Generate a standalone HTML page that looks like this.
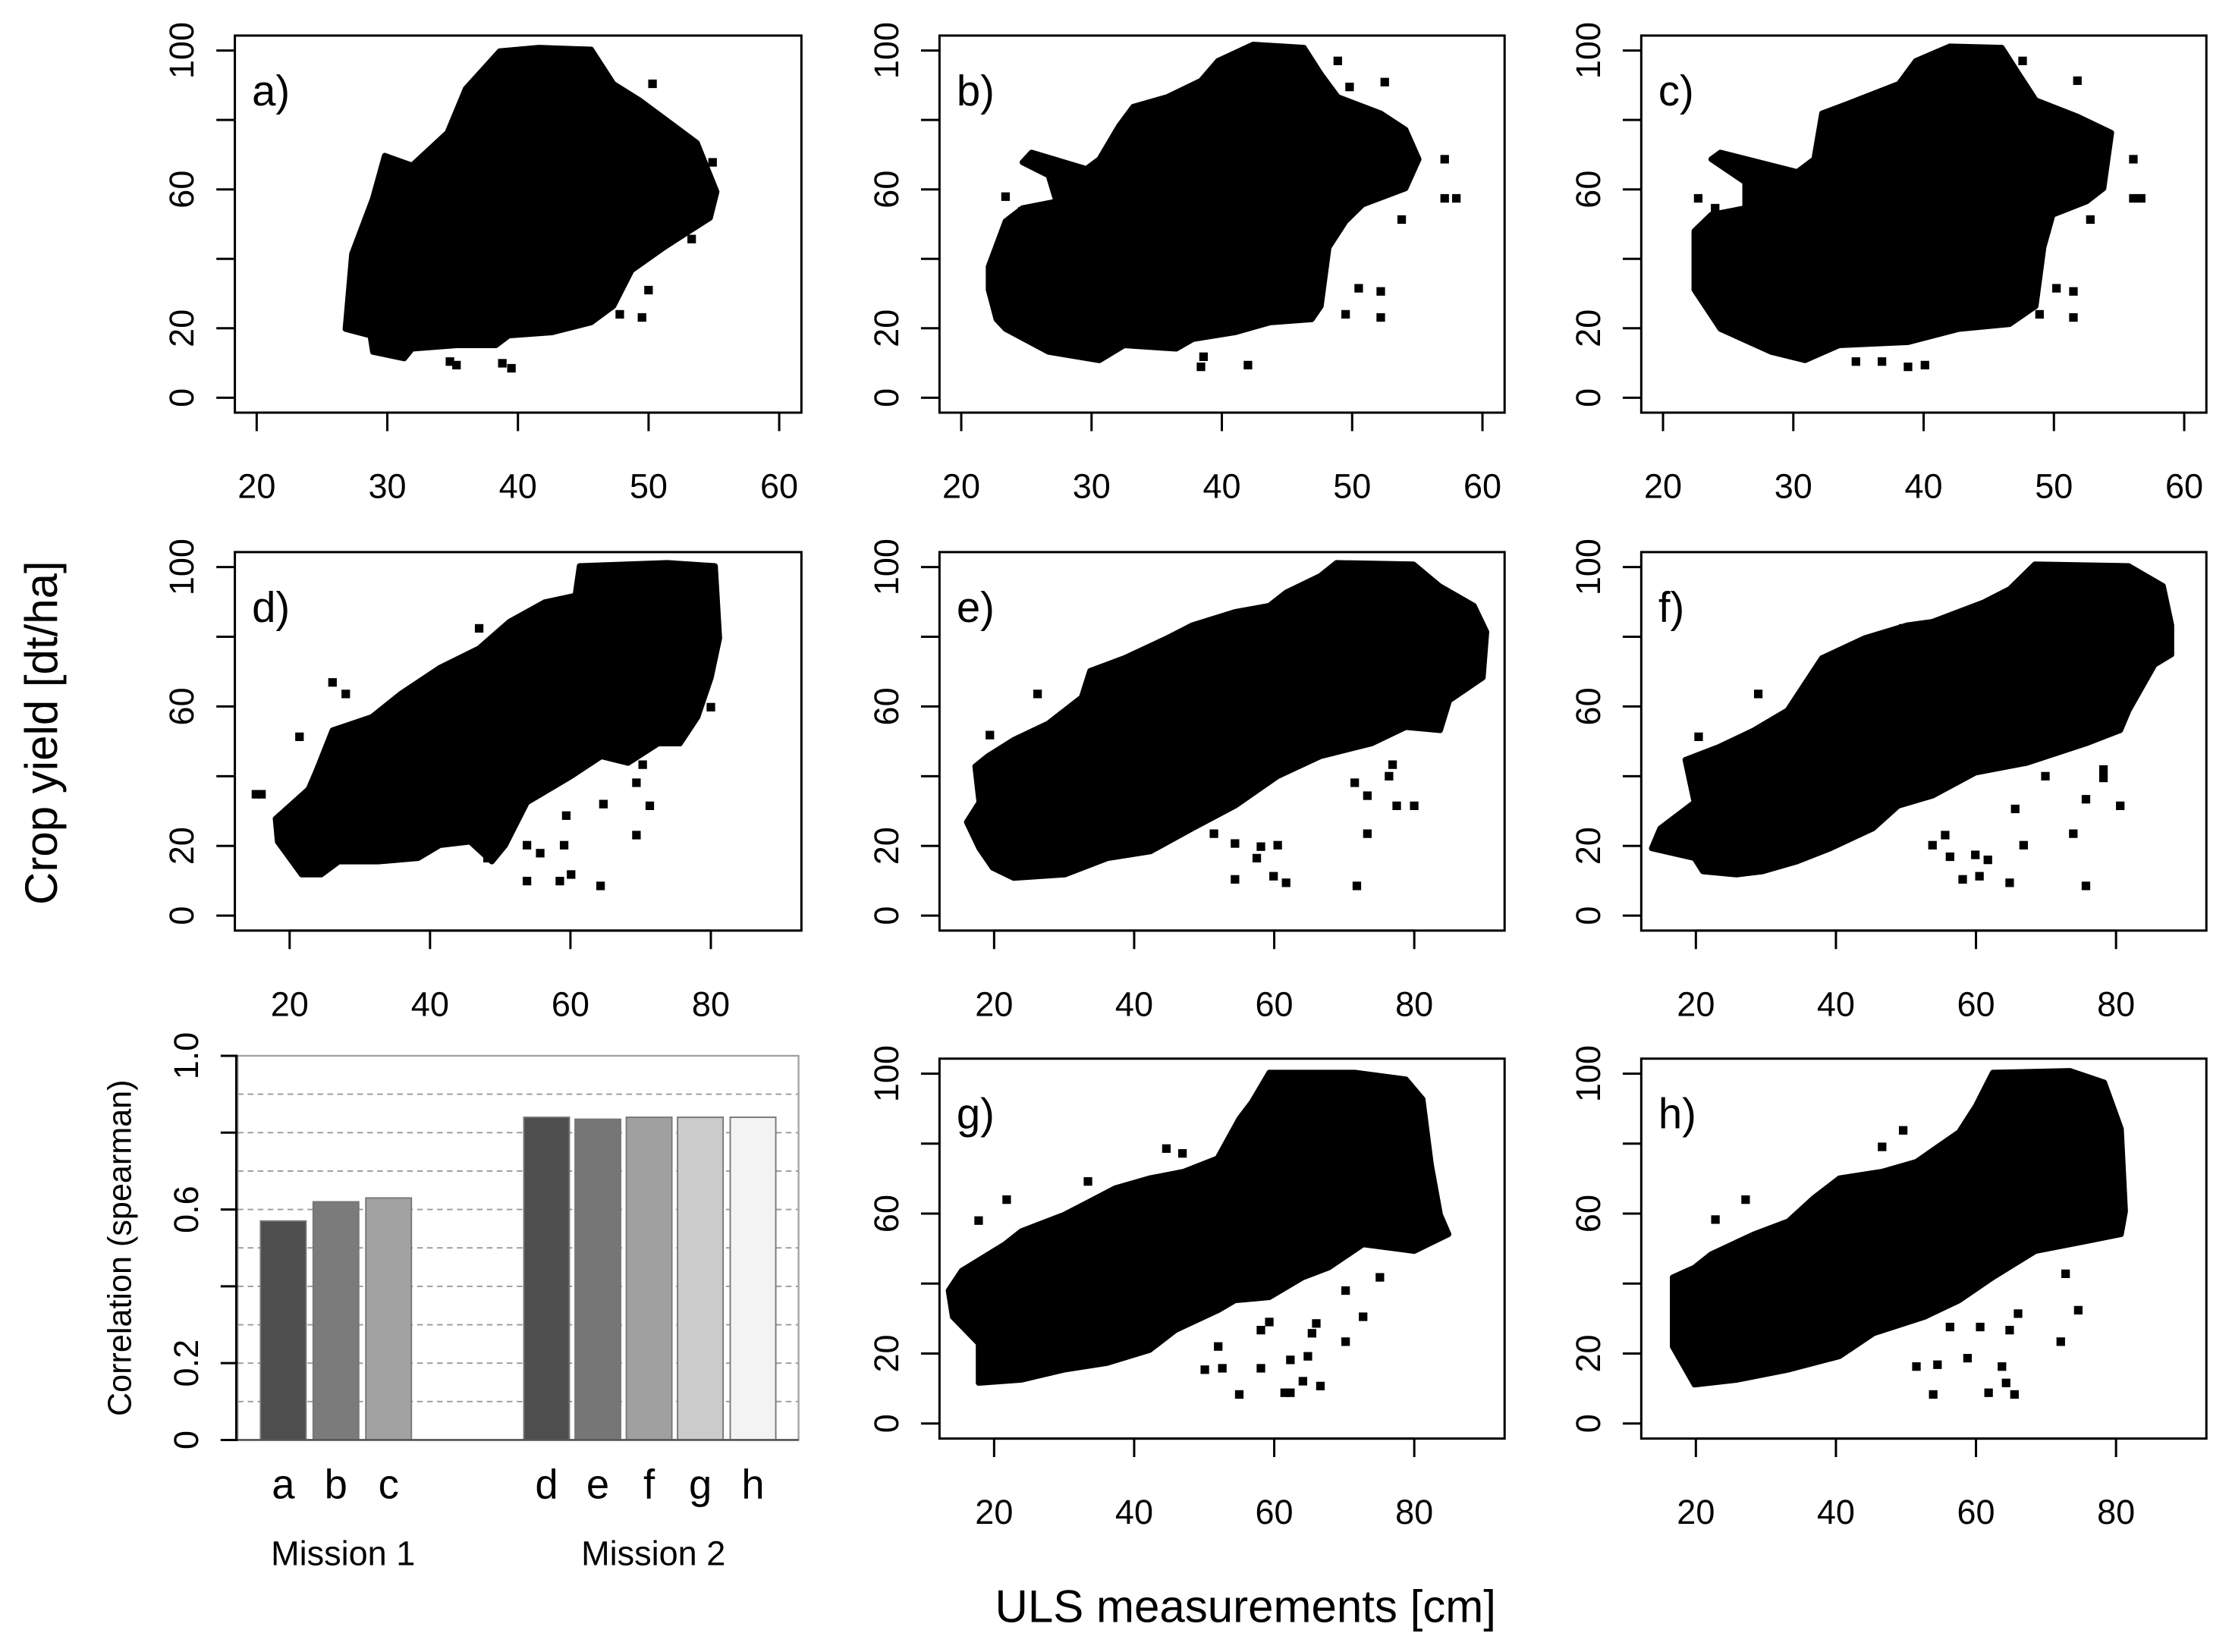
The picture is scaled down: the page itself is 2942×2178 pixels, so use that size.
<!DOCTYPE html>
<html><head><meta charset="utf-8"><title>Crop yield vs ULS measurements</title>
<style>
html,body{margin:0;padding:0;background:#fff;}
svg{display:block;}
text{font-family:"Liberation Sans",Arial,sans-serif;fill:#000;}
</style></head>
<body>
<svg id="fig" xmlns="http://www.w3.org/2000/svg" width="2942" height="2178" viewBox="0 0 1568 1161" preserveAspectRatio="none">
<rect x="0" y="0" width="1568" height="1161" fill="#fff"/>
<text x="0" y="0" font-size="32" text-anchor="middle" transform="translate(40,515) rotate(-90)">Crop yield [dt/ha]</text>
<text x="875" y="1140" font-size="32" text-anchor="middle">ULS measurements [cm]</text>
</svg>
<script>
// ---- scatter cloud outlines (data coords: [ULS cm, yield dt/ha]) ----
const hullA = [[26.8,19.8],[27.3,41.4],[28.9,57.4],[29.8,69.7],[31.9,66.9],[34.6,76.3],[36.0,89],[38.6,99.8],[41.6,100.8],[45.6,100.3],[47.3,90.4],[49.3,85.7],[53.7,73.4],[55.2,59.3],[54.7,51.8],[51.2,43.3],[48.7,36.7],[47.3,26.4],[45.6,21.7],[42.6,18.8],[39.3,17.9],[38.3,15.1],[35.3,15.1],[31.9,14.1],[31.3,11.3],[28.9,13.2],[28.7,17.9]];
const outA = [[34.8,10.4],[35.3,9.4],[38.8,9.9],[39.5,8.5],[50.3,90.4],[49.5,23.1],[47.8,24],[50,31],[53.3,45.7],[54.9,67.8]];
const hullB = [[22.1,37.7],[22.1,31.1],[22.7,22.6],[23.4,19.8],[26.7,13.2],[30.6,10.8],[32.5,15.1],[36.5,14.1],[37.8,16.9],[41,18.8],[43.7,21.7],[46.9,22.6],[47.6,26.4],[48.2,43.3],[49.5,50.8],[50.8,55.6],[54.1,60.3],[55.1,68.7],[54.1,77.2],[52.2,81.9],[48.9,86.6],[47.6,93.2],[46.3,100.8],[42.4,101.7],[39.7,97],[38.4,91.3],[35.8,86.6],[33.2,83.8],[32.1,78.2],[30.6,68.7],[29.6,65.9],[25.4,70.6],[24.7,67.8],[26.7,64],[27.3,56.5],[24.7,54.6],[23.4,50.8]];
const outB = [[23.4,57.9],[24.7,53.7],[48.9,97],[52.5,90.9],[49.8,89.5],[57.1,68.7],[57.1,57.4],[58,57.4],[53.8,51.3],[50.5,31.5],[52.2,30.6],[52.2,23.1],[49.5,24],[38.4,8.9],[42,9.4],[38.6,11.8]];
const hullC = [[22.4,37.7],[22.4,31.1],[24.4,19.8],[28.3,13.2],[30.9,10.8],[33.5,15.1],[38.8,16],[42.7,19.8],[46.6,21.2],[48.6,26.4],[49.2,43.3],[49.9,52.7],[52.5,56.5],[53.8,60.3],[54.4,76.3],[51.8,81],[48.6,85.7],[47.3,93.2],[46,100.8],[42,101.2],[39.4,97],[38.1,90.4],[34.2,84.7],[32.2,81.9],[31.6,68.7],[30.3,65],[24.4,70.6],[23.7,68.7],[26.3,62.1],[26.3,54.6],[23.7,52.7],[22.4,48]];
const outC = [[22.7,57.4],[24,54.6],[47.6,97],[51.8,91.3],[56.1,68.7],[56.1,57.4],[56.7,57.4],[52.8,51.3],[50.2,31.5],[51.5,30.6],[51.5,23.1],[48.9,24],[34.8,10.4],[36.8,10.4],[38.8,8.9],[40.1,9.4]];
const hullD = [[18.0,27.8],[18.3,21.2],[21.7,11.8],[24.5,11.8],[27.0,15.5],[32.6,15.5],[38.3,16.5],[41.4,20.2],[45.7,21.2],[48.8,15.5],[50.7,20.2],[53.8,32.5],[60.1,40.0],[64.4,45.7],[68.2,43.8],[72.5,49.4],[75.6,49.4],[78.1,57.0],[80.0,68.3],[81.2,79.6],[80.6,100.3],[73.8,101.2],[61.3,100.3],[60.7,91.8],[56.3,89.9],[51.3,84.3],[47,76.7],[41.4,71.1],[35.8,63.6],[31.7,57.0],[26.1,53.2],[23.9,41.9],[22.7,36.3]];
const outD = [[15.2,34.8],[16.0,34.8],[21.4,51.3],[26.1,66.9],[28,63.6],[47,82.4],[64.7,32],[69.4,38.1],[70.3,43.3],[71.3,31.5],[69.4,23.1],[59.4,28.7],[59.1,20.2],[55.7,17.9],[53.8,20.2],[53.8,9.9],[58.5,9.9],[60.1,11.8],[64.3,8.5],[48.2,16.5],[80,59.8]];
const hullE = [[16.1,26.8],[17.9,19.3],[19.8,13.7],[22.8,10.8],[30.1,11.8],[36.2,16.5],[42.3,18.4],[48.3,25],[54.4,31.5],[60.5,40],[66.6,45.7],[73.9,49.4],[78.8,54.1],[83.7,53.2],[85,61.7],[89.8,68.3],[90.3,81.4],[88.5,88.9],[83.6,94.6],[79.9,100.8],[68.9,101.2],[66.6,97.5],[61.7,92.7],[59.3,88.9],[54.4,87.1],[48.3,83.3],[44.7,79.6],[38.6,73.9],[33.7,70.2],[32.5,62.6],[27.7,55.1],[22.8,50.4],[19.1,45.7],[17.3,42.8],[17.9,32.5]];
const outE = [[26.2,63.6],[19.4,51.8],[76.9,43.3],[71.5,38.1],[76.4,40],[73.3,34.4],[77.5,31.5],[80,31.5],[73.3,23.5],[51.4,23.5],[54.4,20.7],[58.1,19.8],[57.5,16.5],[60.5,20.2],[54.4,10.4],[59.9,11.3],[61.7,9.4],[71.8,8.5]];
const hullF = [[13.7,19.3],[14.9,25],[19.8,32.5],[18.5,44.7],[23.4,48.5],[28.3,53.2],[33.1,58.9],[38,73.9],[44.1,79.6],[50.2,83.3],[53.8,84.3],[61.1,89.9],[64.8,93.7],[68.4,100.8],[81.8,100.3],[86.7,94.6],[87.9,83.3],[87.9,74.9],[85.5,72],[81.8,58.9],[80.6,53.2],[75.7,49.4],[67.2,43.8],[59.9,41],[53.8,34.4],[48.9,31.5],[45.3,25],[39.2,19.3],[34.4,15.5],[29.5,12.7],[25.8,11.8],[21,12.7],[19.8,16.5]];
const outF = [[28.9,63.6],[20.4,51.3],[49.6,82.4],[69.9,40],[78.2,41.9],[78.2,39.5],[75.7,33.4],[80.6,31.5],[73.9,23.5],[65.6,30.6],[66.8,20.2],[53.8,20.2],[56.3,16.9],[59.9,17.4],[61.7,16],[58.1,10.4],[60.5,11.3],[64.8,9.4],[75.7,8.5],[55.6,23.1]];
const hullG = [[13.5,38],[14.1,30.5],[17.8,22.9],[17.8,11.6],[23.9,12.5],[30,15.4],[36.1,17.3],[42.2,21],[45.9,26.7],[52,32.4],[54.4,35.2],[59.3,36.1],[64.1,41.8],[67.8,44.6],[72.7,51.2],[80,49.3],[84.9,54.1],[83.7,59.7],[82.4,73.9],[81.2,92.7],[78.8,98.4],[71.5,100.3],[59.3,100.3],[56.8,91.8],[55,87.1],[51.9,75.8],[47.1,72],[42.2,70.1],[37.3,67.3],[33.7,63.5],[30,59.7],[23.9,55],[21.5,51.2],[15.4,43.7]];
const outG = [[21.8,64],[17.8,58],[44.6,78.6],[46.9,77.2],[33.4,69.2],[75.1,41.8],[70.2,38],[72.7,30.5],[70.2,23.4],[66,28.6],[59.3,29],[65.4,25.8],[58.1,26.7],[52,22],[52.6,15.8],[50.1,15.4],[58.1,15.8],[62.3,18.2],[64.8,19.2],[55,8.3],[62.3,8.8],[61.5,8.8],[66.6,10.7],[64.1,12.1]];
const hullH = [[16.7,41.8],[16.7,22],[19.8,11.1],[25.9,12.5],[33.2,15.4],[40.5,19.2],[45.4,25.8],[52.7,30.5],[57.6,35.2],[62.4,41.8],[68.5,49.3],[75.9,52.2],[80.7,54.1],[81.3,60.7],[80.7,84.2],[78.3,97.5],[73.4,100.8],[62.4,100.3],[60,90.8],[57.6,83.3],[51.5,74.8],[46.6,72],[40.5,70.1],[36.8,64.4],[33.2,57.8],[28.3,54.1],[22.2,48.4],[19.8,44.6]];
const outH = [[22.8,58.3],[27.1,64],[46.6,79.1],[49.6,83.8],[72.8,42.8],[74.6,32.4],[72.1,23.4],[66,31.4],[64.8,26.7],[60.6,27.6],[56.3,27.6],[51.5,16.3],[54.5,16.8],[58.8,18.7],[63.7,16.3],[64.3,11.6],[53.9,8.3],[61.8,8.8],[65.5,8.3]];

// ---- tick labels ----
const yTicks = [0,20,40,60,80,100];
const yTickLabels = ["0","20","","60","","100"];
const xTicksM1 = [20,30,40,50,60];
const xTicksM2 = [20,40,60,80];

// ---- bar chart data ----
const barCats = ["a","b","c","d","e","f","g","h"];
const barVals = [0.57,0.62,0.63,0.84,0.835,0.84,0.84,0.84];
const corrTicks = [0,0.2,0.4,0.6,0.8,1.0];
const corrTickLabels = ["0","0.2","","0.6","","1.0"];

const NS = "http://www.w3.org/2000/svg";
const svg = document.getElementById('fig');
function mk(tag, attrs, parent){
  const e = document.createElementNS(NS, tag);
  for (const k in attrs) e.setAttribute(k, attrs[k]);
  (parent||svg).appendChild(e);
  return e;
}

const cols = [[165,563],[660,1057],[1153,1550]];
const rows = [[25,290],[388,654],[744,1011]];
const panels = [
  {id:"a", c:0, r:0, hull:hullA, out:outA, xd:[18.33,61.7], ticks:xTicksM1},
  {id:"b", c:1, r:0, hull:hullB, out:outB, xd:[18.33,61.7], ticks:xTicksM1},
  {id:"c", c:2, r:0, hull:hullC, out:outC, xd:[18.33,61.7], ticks:xTicksM1},
  {id:"d", c:0, r:1, hull:hullD, out:outD, xd:[12.2,92.9], ticks:xTicksM2},
  {id:"e", c:1, r:1, hull:hullE, out:outE, xd:[12.2,92.9], ticks:xTicksM2},
  {id:"f", c:2, r:1, hull:hullF, out:outF, xd:[12.2,92.9], ticks:xTicksM2},
  {id:"g", c:1, r:2, hull:hullG, out:outG, xd:[12.2,92.9], ticks:xTicksM2},
  {id:"h", c:2, r:2, hull:hullH, out:outH, xd:[12.2,92.9], ticks:xTicksM2}
];
const YD = [-4.3, 104.3];

panels.forEach(p => {
  const [x0,x1] = cols[p.c], [y0,y1] = rows[p.r];
  const sx = v => x0 + (v - p.xd[0]) / (p.xd[1]-p.xd[0]) * (x1-x0);
  const sy = v => y1 - (v - YD[0]) / (YD[1]-YD[0]) * (y1-y0);
  const g = mk('g', {});
  
  
  const poly = mk('polygon', {points: p.hull.map(d => sx(d[0]).toFixed(1)+','+sy(d[1]).toFixed(1)).join(' '), fill:'#000', stroke:'#000', 'stroke-width':4, 'stroke-linejoin':'round'}, g);
  
  
  p.out.forEach(d => {
    const r = mk('rect', {x:(sx(d[0])-3).toFixed(1), y:(sy(d[1])-3).toFixed(1), width:6, height:6, fill:'#000'}, g);
    
    
  });
  const box = mk('rect', {x:x0, y:y0, width:x1-x0, height:y1-y0, fill:'none', stroke:'#000', 'stroke-width':1.6}, g);
  
  
  yTicks.forEach((v,i) => {
    mk('line', {x1:x0-13, x2:x0, y1:sy(v), y2:sy(v), stroke:'#000', 'stroke-width':1.6}, g);
    if (yTickLabels[i]) {
      const t = mk('text', {x:0, y:0, 'font-size':24, 'text-anchor':'middle', transform:`translate(${x0-29},${sy(v)}) rotate(-90)`}, g);
      t.textContent = yTickLabels[i];
      
      
    }
  });
  p.ticks.forEach(v => {
    mk('line', {x1:sx(v), x2:sx(v), y1:y1, y2:y1+13, stroke:'#000', 'stroke-width':1.6}, g);
    const t = mk('text', {x:sx(v), y:y1+60, 'font-size':24, 'text-anchor':'middle'}, g);
    t.textContent = String(v);
    
    
  });
  mk('line', {x1:sx(p.ticks[0]), x2:sx(p.ticks[p.ticks.length-1]), y1:y1, y2:y1, stroke:'#000', 'stroke-width':1.6}, g);
  const lab = mk('text', {x:x0+12, y:y0+49, 'font-size':30}, g);
  lab.textContent = p.id + ')';
  
  
});

(function(){
  const bx0 = 167, bx1 = 561, by0 = 742, by1 = 1012;
  const sy = v => by1 - v * (by1-by0);
  const g = mk('g', {});
  
  
  for (let k = 1; k <= 10; k++) {
    const v = k/10;
    mk('line', {x1:bx0, x2:bx1, y1:sy(v), y2:sy(v), stroke:'#9a9a9a', 'stroke-width':1, 'stroke-dasharray':'4,3'}, g);
  }
  const barLeft = [183,220,257,368,404,440,476,513];
  const barW = 32;
  const fills = ['#4e4e4e','#7b7b7b','#a2a2a2','#4e4e4e','#767676','#a0a0a0','#cbcbcb','#f3f3f3'];
  barCats.forEach((c,i) => {
    const r = mk('rect', {x:barLeft[i], y:sy(barVals[i]), width:barW, height:by1 - sy(barVals[i]), fill:fills[i], stroke:'#777', 'stroke-width':1}, g);
    
    
    const t = mk('text', {x:barLeft[i]+barW/2, y:1053, 'font-size':29, 'text-anchor':'middle'}, g);
    t.textContent = c;
    
    
  });
  const box = mk('rect', {x:bx0, y:by0, width:bx1-bx0, height:by1-by0, fill:'none', stroke:'#a0a0a0', 'stroke-width':1.2}, g);
  
  
  mk('line', {x1:bx0, x2:bx1, y1:by1, y2:by1, stroke:'#555', 'stroke-width':1.4}, g);
  corrTicks.forEach((v,i) => {
    mk('line', {x1:bx0-12, x2:bx0, y1:sy(v), y2:sy(v), stroke:'#000', 'stroke-width':1.6}, g);
    if (corrTickLabels[i]) {
      const t = mk('text', {x:0, y:0, 'font-size':24, 'text-anchor':'middle', transform:`translate(${bx0-28},${sy(v)}) rotate(-90)`}, g);
      t.textContent = corrTickLabels[i];
      
      
    }
  });
  mk('line', {x1:bx0-1, x2:bx0-1, y1:sy(0), y2:sy(1), stroke:'#000', 'stroke-width':1.6}, g);
  const yt = mk('text', {x:0, y:0, 'font-size':23, 'text-anchor':'middle', transform:'translate(92,877) rotate(-90)'}, g);
  yt.textContent = 'Correlation (spearman)';
  
  
  const m1 = mk('text', {x:241, y:1100, 'font-size':24, 'text-anchor':'middle'}, g);
  m1.textContent = 'Mission 1';
  
  
  const m2 = mk('text', {x:459, y:1100, 'font-size':24, 'text-anchor':'middle'}, g);
  m2.textContent = 'Mission 2';
  
  
})();
</script>
</body></html>
